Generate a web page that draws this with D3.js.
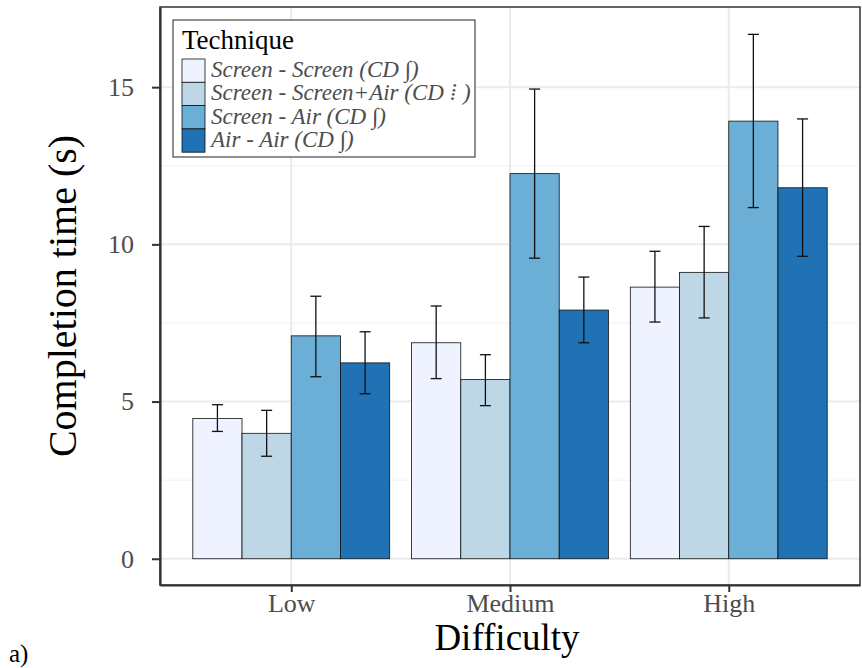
<!DOCTYPE html>
<html lang="en">
<head>
    <meta charset="UTF-8">
    <title>Completion time by difficulty</title>
    <script src="https://d3js.org/d3.v7.min.js"></script>
    <style>
        body{ margin:0; background:#fff; }
        svg{ display:block; }
        text{ font-family: "Liberation Serif", serif; }
    </style>
</head>
<body>
<script>
    // data
    const difficulties = ["Low", "Medium", "High"]
    const techniques = ["Screen - Screen (CD \u222B)", "Screen - Screen+Air (CD \u205E )", "Screen - Air (CD \u222B)", "Air - Air (CD \u222B)"]
    const colors = ["#eff3ff", "#bdd7e7", "#6baed6", "#2171b5"]
    const means = [
        [4.46, 3.99, 7.09, 6.23],
        [6.87, 5.70, 12.25, 7.91],
        [8.64, 9.11, 13.92, 11.80]
    ]
    const lows = [
        [4.05, 3.26, 5.79, 5.25],
        [5.73, 4.87, 9.56, 6.87],
        [7.53, 7.66, 11.17, 9.62]
    ]
    const highs = [
        [4.90, 4.72, 8.35, 7.22],
        [8.04, 6.49, 14.94, 8.96],
        [9.78, 10.57, 16.68, 13.99]
    ]
    const yTicks = [0, 5, 10, 15]
    const yMinor = [2.5, 7.5, 12.5]

    const W = 862, H = 668
    const panel = {left:160, right:860, top:7, bottom:585}

    const svg = d3.select("body").append("svg").attr("width", W).attr("height", H)

    // ggplot style discrete scale: 0.6 units of padding each side
    const xScale = d3.scalePoint().domain(difficulties)
                        .range([panel.left, panel.right]).padding(0.6)
    const step = xScale.step()
    const inner = d3.scaleBand().domain(d3.range(techniques.length))
                        .range([-step*0.45, step*0.45])

    const yScale = d3.scaleLinear().domain([-0.835, 17.55])
                        .range([panel.bottom, panel.top])

    // grid
    const grid = svg.append("g")
    grid.selectAll(".minor").data(yMinor).join("line")
        .attr("x1", panel.left).attr("x2", panel.right)
        .attr("y1", d=> yScale(d)).attr("y2", d=> yScale(d))
        .attr("stroke", "#f2f2f2").attr("stroke-width", 1)
    grid.selectAll(".major").data(yTicks).join("line")
        .attr("x1", panel.left).attr("x2", panel.right)
        .attr("y1", d=> yScale(d)).attr("y2", d=> yScale(d))
        .attr("stroke", "#ebebeb").attr("stroke-width", 2)
    grid.selectAll(".vmajor").data(difficulties).join("line")
        .attr("x1", d=> xScale(d)).attr("x2", d=> xScale(d))
        .attr("y1", panel.top).attr("y2", panel.bottom)
        .attr("stroke", "#ebebeb").attr("stroke-width", 2)

    // bars
    const groups = svg.selectAll(".grp").data(difficulties).join("g")
        .attr("transform", d=> `translate(${xScale(d)},0)`)
    groups.each(function(d, gi){
        const g = d3.select(this)
        techniques.forEach((t, ti)=>{
            g.append("rect")
                .attr("x", inner(ti)).attr("width", inner.bandwidth())
                .attr("y", yScale(means[gi][ti]))
                .attr("height", yScale(0) - yScale(means[gi][ti]))
                .attr("fill", colors[ti]).attr("stroke", "#111").attr("stroke-width", 0.8)
        })
        techniques.forEach((t, ti)=>{
            const cx = inner(ti) + inner.bandwidth()/2
            const eb = g.append("g").attr("stroke", "#111").attr("stroke-width", 1.3)
            eb.append("line").attr("x1", cx).attr("x2", cx)
                .attr("y1", yScale(lows[gi][ti])).attr("y2", yScale(highs[gi][ti]))
            ;[lows[gi][ti], highs[gi][ti]].forEach(v=>{
                eb.append("line").attr("x1", cx-5.5).attr("x2", cx+5.5)
                    .attr("y1", yScale(v)).attr("y2", yScale(v))
            })
        })
    })

    // panel border + axis lines
    svg.append("rect")
        .attr("x", panel.left).attr("y", panel.top)
        .attr("width", panel.right-panel.left).attr("height", panel.bottom-panel.top)
        .attr("fill", "none").attr("stroke", "#333").attr("stroke-width", 1.5)

    const yAxis = svg.append("g").attr("transform", `translate(${panel.left},0)`)
        .call(d3.axisLeft(yScale).tickValues(yTicks).tickSize(8).tickSizeOuter(0).tickPadding(18))
    const xAxis = svg.append("g").attr("transform", `translate(0,${panel.bottom})`)
        .call(d3.axisBottom(xScale).tickSize(7).tickSizeOuter(0).tickPadding(2))
    ;[yAxis, xAxis].forEach(ax=>{
        ax.select(".domain").attr("stroke", "#333").attr("stroke-width", 2.2)
        ax.selectAll(".tick line").attr("stroke", "#333").attr("stroke-width", 2)
        ax.selectAll(".tick text").attr("fill", "#4d4d4d")
            .style("font-family", '"Liberation Serif", serif').style("font-size", "26px")
    })

    // axis titles
    svg.append("text")
        .attr("transform", `translate(76,${(panel.top+panel.bottom)/2}) rotate(-90)`)
        .attr("text-anchor", "middle")
        .style("font-size", "40px")
        .text("Completion time (s)")
    svg.append("text")
        .attr("x", (panel.left+panel.right)/2 - 3).attr("y", 650)
        .attr("text-anchor", "middle")
        .style("font-size", "37px")
        .text("Difficulty")
    svg.append("text")
        .attr("x", 9).attr("y", 662)
        .style("font-size", "25px")
        .text("a)")

    // legend
    const leg = svg.append("g").attr("transform", "translate(173,20)")
    leg.append("rect").attr("width", 302).attr("height", 137)
        .attr("fill", "#fff").attr("stroke", "#222").attr("stroke-width", 1)
    leg.append("text").attr("x", 9).attr("y", 29)
        .style("font-size", "27px").text("Technique")
    const keyH = 23.3
    techniques.forEach((t, i)=>{
        leg.append("rect").attr("x", 9).attr("y", 39 + i*keyH)
            .attr("width", 23).attr("height", keyH)
            .attr("fill", colors[i]).attr("stroke", "#111").attr("stroke-width", 0.8)
        leg.append("text").attr("x", 38).attr("y", 39 + i*keyH + 18)
            .style("font-size", "23px").style("font-style", "italic")
            .attr("fill", "#4d4d4d")
            .text(t)
    })
</script>
</body>
</html>
